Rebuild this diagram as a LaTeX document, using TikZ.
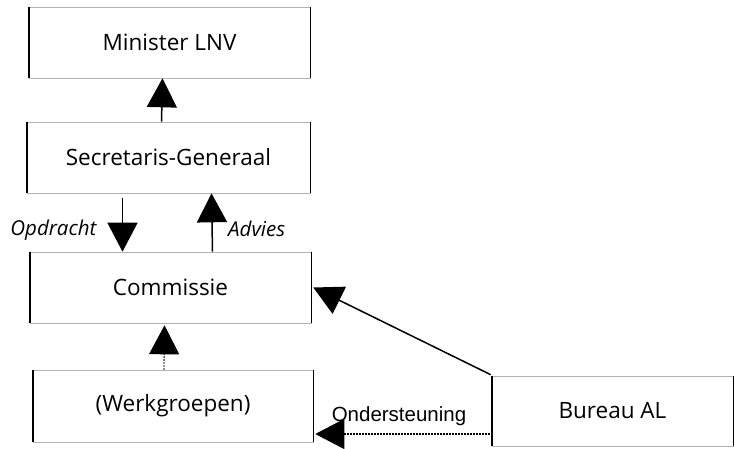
\documentclass[tikz,border=0pt]{standalone}
\usepackage{fontspec}
\setmainfont{Open Sans}
\newfontfamily\arialfont{Liberation Sans}
\usetikzlibrary{arrows.meta}

\tikzset{
  box/.style={draw=gray!60, line width=0.6pt, inner sep=0pt,
    minimum width=281pt, minimum height=71pt, font=\fontsize{22.5}{27}\selectfont},
  side/.style={line width=1.6pt},
  arr/.style={line width=1.5pt, -{Triangle[length=29pt,width=30pt]}},
  dotarr/.style={arr, line width=1.3pt, dash pattern=on 1.3pt off 1.7pt},
  lbl/.style={font=\fontsize{20.5}{24}\selectfont\itshape}
}

\begin{document}
\begin{tikzpicture}[x=1pt, y=-1pt]
	\useasboundingbox (0,0) rectangle (735,449);

	% Draw the boxes
	\node[box] (min) at (169.5,42.5) {Minister LNV};
	\node[box, minimum width=283pt] (sg) at (168.5,157.5) {Secretaris-Generaal};
	\node[box] (com) at (170.5,287.5) {Commissie};
	\node[box, minimum width=280pt, minimum height=72pt] (wg) at (173,406) {(Werkgroepen)};
	\node[box, minimum width=241pt, minimum height=70pt] (bur) at (612.5,411) {Bureau AL};

	% Draw the black sides of the boxes
	\foreach \n in {min,sg,com,wg,bur} {
		\draw[side] (\n.north west) -- (\n.south west);
		\draw[side] (\n.north east) -- (\n.south east);
	}

	% Draw the arrows between the boxes
	\draw[arr] ([xshift=-7pt]sg.north) -- ([xshift=-7pt]min.south);
	\draw[arr] ([xshift=-46pt, yshift=-5pt]sg.south) -- ([xshift=-48pt]com.north)
		node[lbl, pos=0.6, left=22pt] (opd) {Opdracht};
	\draw[arr] ([xshift=42pt]com.north) -- ([xshift=43pt]sg.south)
		node[lbl, pos=0.4, right=12pt] (adv) {Advies};
	\draw[dotarr] ([xshift=-9pt]wg.north) -- ([xshift=-6pt, yshift=-2pt]com.south);
	\draw[arr] ([xshift=-1pt, yshift=1pt]bur.north west) -- ([xshift=2pt]com.east);
	\draw[dotarr] ([xshift=-2pt, yshift=-23pt]bur.west) -- ([xshift=2pt, yshift=-28pt]wg.east)
		node[pos=0.52, above=4pt, font=\arialfont\fontsize{20.5}{24}\selectfont] (ond) {Ondersteuning};

\end{tikzpicture}
\end{document}
